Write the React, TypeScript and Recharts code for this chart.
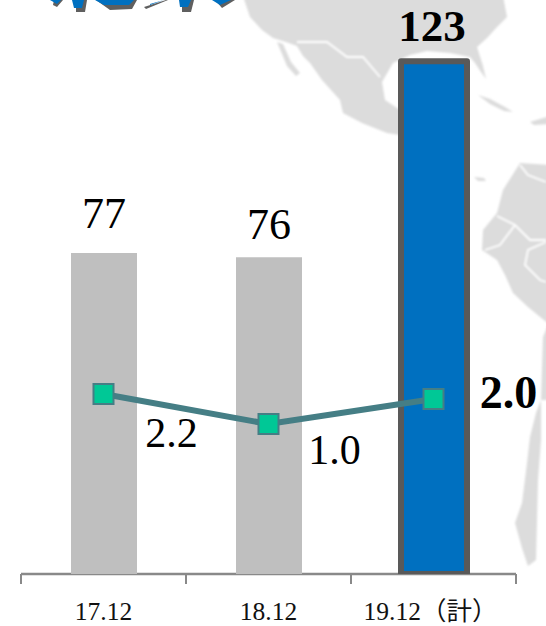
import React from "react";
import { Bar, Cell, ComposedChart, LabelList, Line, XAxis, YAxis } from "recharts";

const periods = ["17.12", "18.12", "19.12（計）"];
const salesValues = [77, 76, 123];
const rateValues = [2.2, 1.0, 2.0];
const rateLabels = ["2.2", "1.0", "2.0"];

const rows = periods.map((period, i) => ({ period, sales: salesValues[i], rate: rateValues[i] }));

const SERIF = "'Liberation Serif', 'Noto Sans CJK JP', serif";
const AXIS_COLOR = "#898989";
const LINE_COLOR = "#457E85";
const MARKER_FILL = "#00C896";

// Per-column placement of the hand-positioned value labels.
const salesLift = [25, 18, 20];
const rateShiftX = [68, 66, 75];
const rateShiftY = [53, 40, 9];
const tickShift = [0, 0, -3];

function SalesLabel(props: any) {
  const { x, y, width, index, value } = props;
  const emphasised = index === 2;
  return (
    <text
      x={x + width / 2 + (emphasised ? -2 : 0)}
      y={y - salesLift[index]}
      textAnchor="middle"
      fontFamily={SERIF}
      fontSize={emphasised ? 45 : 44}
      fontWeight={emphasised ? 700 : 400}
      fill="#000"
    >
      {value}
    </text>
  );
}

function RateLabel(props: any) {
  const { x, y, index } = props;
  const emphasised = index === 2;
  return (
    <text
      x={x + rateShiftX[index]}
      y={y + rateShiftY[index]}
      textAnchor="middle"
      fontFamily={SERIF}
      fontSize={emphasised ? 46 : 42}
      fontWeight={emphasised ? 700 : 400}
      fill="#000"
    >
      {rateLabels[index]}
    </text>
  );
}

function RateMarker(props: any) {
  const { cx, cy, index } = props;
  return (
    <rect
      key={index}
      x={cx - 10}
      y={cy - 10}
      width={20}
      height={20}
      fill={MARKER_FILL}
      stroke={LINE_COLOR}
      strokeWidth={2}
    />
  );
}

// Category label plus tick marks on the band edges rather than the band centre.
function PeriodTick(props: any) {
  const { x, y, payload, index, width, visibleTicksCount } = props;
  const band = width / visibleTicksCount;
  const axisY = y - 8;
  const edge = x - band / 2;
  return (
    <g>
      <line x1={edge} x2={edge} y1={axisY} y2={axisY + 10} stroke={AXIS_COLOR} strokeWidth={2} />
      {index === visibleTicksCount - 1 && (
        <line x1={edge + band} x2={edge + band} y1={axisY} y2={axisY + 10} stroke={AXIS_COLOR} strokeWidth={2} />
      )}
      <text
        x={x + tickShift[index]}
        y={axisY + 46}
        textAnchor="middle"
        fontFamily={SERIF}
        fontSize={25.5}
        fill="#111"
      >
        {payload.value}
      </text>
    </g>
  );
}

// Faint world map behind the chart, with the clipped heading along the top edge.
function Backdrop() {
  const land = "#dcdcdc";
  return (
    <svg width={546} height={626} style={{ position: "absolute", left: 0, top: 0 }}>
      <defs>
        <filter id="soft" x="-10%" y="-10%" width="120%" height="120%">
          <feGaussianBlur stdDeviation="1.3" />
        </filter>
      </defs>
      <g filter="url(#soft)">
        <path
          fill={land}
          d="M243 -4 L250 17 L262 30 L273 38 L286 42 L297 46 L303 56 L310 63 L322 80 L340 100 L343 113 L362 123 L387 133 L400 135 L400 110 L385 100 L382 82 L393 63 L410 55 L427 51 L450 53 L470 57 L475 63 L481 72 L486 79 L483 66 L477 47 L487 38 L497 27 L507 17 L503 -4 Z"
        />
        <path fill={land} d="M277 42 L283 44 L291 62 L300 73 L296 76 L287 66 Z" />
        <path fill={land} d="M478 95 L490 99 L505 107 L513 112 L504 111 L490 104 Z" />
        <path fill={land} d="M530 122 L550 116 L550 124 L534 125 Z" />
        <path fill={land} d="M474 177 L484 178 L486 181 L478 181 Z" />
        <path
          fill={land}
          d="M520 163 L550 165 L550 325 L528 307 L513 293 L505 275 L497 260 L482 250 L483 230 L497 213 L503 190 Z"
        />
        <path fill={land} d="M550 320 L550 400 L541 400 L543 337 Z" />
        <path
          fill={land}
          d="M541 400 L541 440 L538 480 L537 520 L536 560 L528 566 L522 548 L515 523 L522 503 L527 463 L530 437 L536 413 Z"
        />
        <path
          fill="none"
          stroke="#fff"
          strokeWidth={1.8}
          d="M297 42 L327 42 L347 57 L363 57 L380 77 M520 165 L528 175 L546 182 M497 216 L515 225 L530 240 L546 240 M515 225 L500 245 L485 250 M546 242 L528 250 L525 265 L540 280 L546 282"
        />
      </g>
      <path
        fill="#5f5f5f"
        d="M54 0 L63 0 L57 7 L53 5 Z M76 0 L87 0 L85 12 L76 12 Z M96 0 L137 0 L132 9 L110 10 Z M144 7 L166 0 L168 0 L146 9 Z M182 0 L194 0 L191 12 L182 12 Z M215 0 L235 0 L222 8 Z"
      />
      <path
        fill="#0070C0"
        d="M50 0 L61 0 L57 4 Z M72 0 L84 0 L82 8 L74 8 Z M95 0 L134 0 L129 5 L104 5 Z M150 4 L164 0 L150 5 Z M179 0 L191 0 L188 7 L180 7 Z M212 0 L231 0 L220 5 Z"
      />
    </svg>
  );
}

export default function App() {
  return (
    <div style={{ position: "absolute", left: 0, top: 0, width: 546, height: 626, overflow: "hidden", background: "#fff" }}>
      <Backdrop />
      <div style={{ position: "absolute", left: 0, top: 0 }}>
        <ComposedChart
          width={546}
          height={626}
          data={rows}
          margin={{ top: 32, right: 30, bottom: 0, left: 21 }}
        >
          <XAxis
            dataKey="period"
            xAxisId={0}
            height={52}
            interval={0}
            axisLine={{ stroke: AXIS_COLOR, strokeWidth: 2.5 }}
            tickLine={false}
            tickMargin={0}
            tickSize={8}
            tick={<PeriodTick />}
            zIndex={100}
          />
          <YAxis yAxisId="sales" hide domain={[0, 130]} allowDataOverflow />
          <YAxis yAxisId="rate" hide orientation="right" domain={[-5, 16.68]} allowDataOverflow />
          <Bar yAxisId="sales" dataKey="sales" barSize={66} isAnimationActive={false}>
            {rows.map((row, i) => (
              <Cell
                key={row.period}
                fill={i === 2 ? "#0070C0" : "#BFBFBF"}
                stroke={i === 2 ? "#595959" : "none"}
                strokeWidth={i === 2 ? 6 : 0}
                strokeLinejoin="round"
              />
            ))}
            <LabelList dataKey="sales" content={<SalesLabel />} />
          </Bar>
          <Line
            yAxisId="rate"
            dataKey="rate"
            stroke={LINE_COLOR}
            strokeWidth={6}
            dot={(p: any) => <RateMarker {...p} />}
            activeDot={false}
            isAnimationActive={false}
          >
            <LabelList dataKey="rate" content={<RateLabel />} />
          </Line>
        </ComposedChart>
      </div>
    </div>
  );
}
